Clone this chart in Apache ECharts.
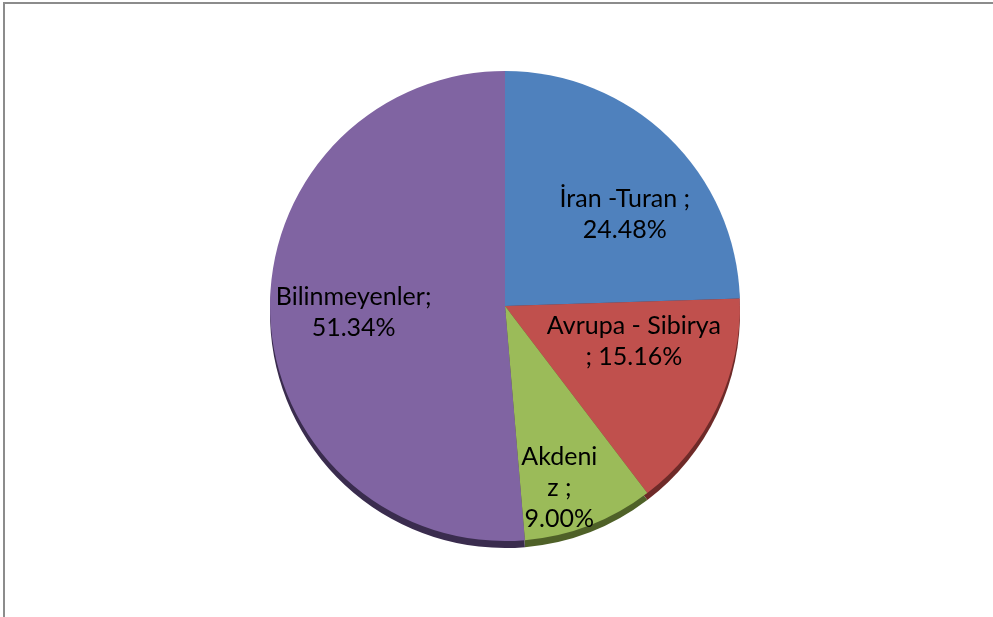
<!DOCTYPE html>
<html>
<head>
<meta charset="utf-8">
<script src="https://cdn.jsdelivr.net/npm/echarts@6/dist/echarts.min.js"></script>
<style>
html,body{margin:0;padding:0;background:#fff;}
#c{width:993px;height:617px;}
</style>
</head>
<body>
<div id="c"></div>
<script>
var categories = ["İran -Turan", "Avrupa - Sibirya", "Akdeniz", "Bilinmeyenler"];
var values = [24.48, 15.16, 9.00, 51.34];
var labelTexts = ["İran -Turan ;\n24.48%", "Avrupa - Sibirya\n; 15.16%", "Akdeni\nz ;\n9.00%", "Bilinmeyenler;\n51.34%"];
var faceColors = ["#4F81BD", "#C0504D", "#9BBB59", "#8064A2"];
var sideColors = ["#2C4A6E", "#6E2A28", "#4F6128", "#3A2C4E"];
var labelOffsets = [[36, -5], [20, -16], [11, 69], [-31, 1]];

var chart = echarts.init(document.getElementById('c'), null, {renderer: 'canvas'});

function makeData(colors, withLabels) {
  return categories.map(function (name, i) {
    return {
      name: name,
      value: values[i],
      itemStyle: {color: colors[i]},
      label: withLabels ? {formatter: labelTexts[i]} : {show: false}
    };
  });
}

chart.setOption({
  animation: false,
  backgroundColor: '#ffffff',
  graphic: [{
    type: 'rect',
    shape: {x: 4, y: 3, width: 1200, height: 800},
    style: {fill: 'none', stroke: '#8c8c8c', lineWidth: 2},
    silent: true,
    z: -10
  }],
  series: [{
    type: 'pie',
    silent: true,
    center: [505, 313],
    radius: 235,
    startAngle: 90,
    clockwise: true,
    label: {show: false},
    labelLine: {show: false},
    itemStyle: {borderWidth: 0},
    data: makeData(sideColors, false),
    z: 1
  }, {
    type: 'pie',
    silent: true,
    center: [505, 306],
    radius: 235,
    startAngle: 90,
    clockwise: true,
    itemStyle: {borderWidth: 0},
    label: {
      show: true,
      position: 'inside',
      color: '#000',
      fontFamily: 'Lato',
      fontSize: 25,
      lineHeight: 31,
      align: 'center'
    },
    labelLine: {show: false},
    labelLayout: function (p) {
      var o = labelOffsets[p.dataIndex];
      return {dx: o[0], dy: o[1]};
    },
    data: makeData(faceColors, true),
    z: 2
  }]
});
</script>
</body>
</html>
